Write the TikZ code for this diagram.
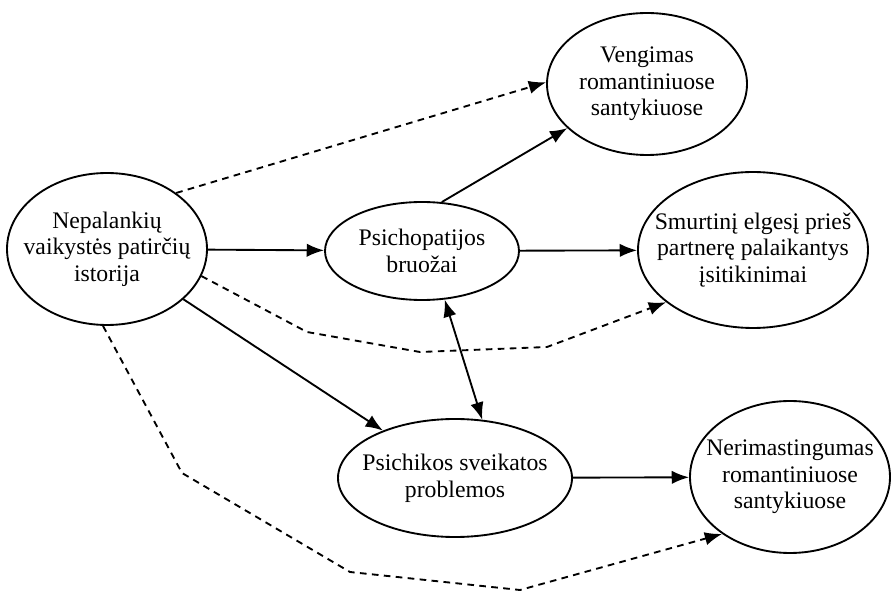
\documentclass[tikz,border=0pt]{standalone}
\usepackage{fontspec}
\setmainfont{Liberation Serif}
\usetikzlibrary{shapes.geometric,arrows.meta}
\begin{document}
\begin{tikzpicture}[x=0.75pt,y=-0.75pt,
  oval/.style={ellipse,draw,line width=1.4pt,inner sep=0pt},
  lbl/.style={align=center,inner sep=0pt,font=\fontsize{17.8}{20}\selectfont},
  conn/.style={line width=1.4pt,-{Latex[length=13pt,width=10pt]}},
  bconn/.style={line width=1.4pt,{Latex[length=13pt,width=10pt]}-{Latex[length=13pt,width=10pt]}},
  dconn/.style={conn,dash pattern=on 5pt off 4pt}]
\useasboundingbox (0,0) rectangle (893,591);
\node[oval,minimum width=150pt,minimum height=114pt] (L) at (107,249) {};
\node[oval,minimum width=145.5pt,minimum height=73.5pt] (P) at (422,251) {};
\node[oval,minimum width=150pt,minimum height=106.5pt] (V) at (647,84) {};
\node[oval,minimum width=172.5pt,minimum height=117pt] (S) at (753,250) {};
\node[oval,minimum width=175.5pt,minimum height=88.5pt] (Ps) at (455,478) {};
\node[oval,minimum width=150pt,minimum height=114pt] (N) at (790,477) {};
\node[lbl] (Lt) at (L) {Nepalankių\\vaikystės patirčių\\istorija};
\node[lbl] (Pt) at (P) {Psichopatijos\\bruožai};
\node[lbl] (Vt) at (V) {Vengimas\\romantiniuose\\santykiuose};
\node[lbl] (St) at (S) {Smurtinį elgesį prieš\\partnerę palaikantys\\įsitikinimai};
\node[lbl] (Pst) at (Ps) {Psichikos sveikatos\\problemos};
\node[lbl] (Nt) at (N) {Nerimastingumas\\romantiniuose\\santykiuose};
\coordinate (a1) at (307,332);
\coordinate (a2) at (420,352);
\coordinate (a3) at (547,347);
\coordinate (b1) at (182,473);
\coordinate (b2) at (350,572);
\coordinate (b3) at (520,590);
\draw[conn] (L) -- (P);
\draw[conn] (L) -- (Ps);
\draw[conn] (P.68) -- (V.209);
\draw[conn] (P) -- (S);
\draw[bconn] (P.-65) -- (Ps.65);
\draw[conn] (Ps) -- (N);
\draw[dconn] (L.39) -- (V.179);
\draw[dconn] (L.-16) -- (a1) -- (a2) -- (a3) -- (S.211);
\draw[dconn] (L.-93) -- (b1) -- (b2) -- (b3) -- (N.220);
\end{tikzpicture}
\end{document}
